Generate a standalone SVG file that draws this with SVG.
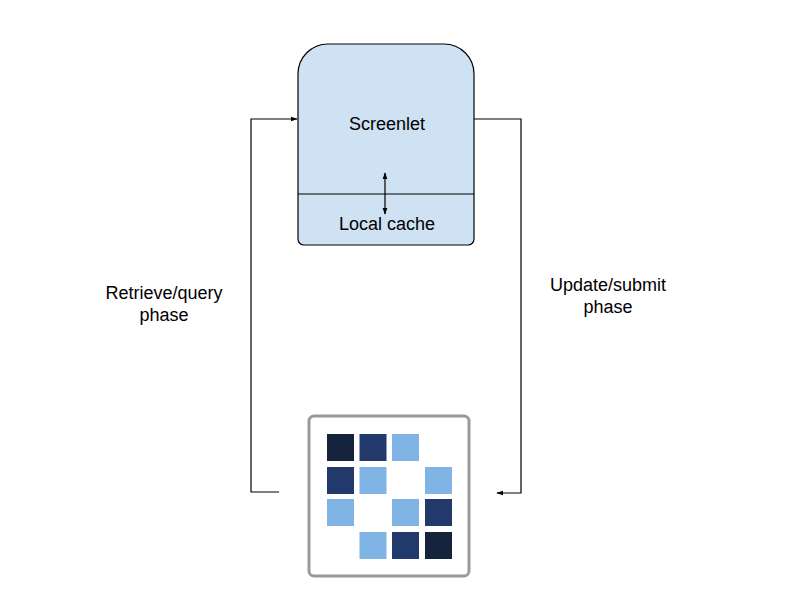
<svg xmlns="http://www.w3.org/2000/svg" width="800" height="600" viewBox="0 0 800 600">
<style>
text{font-family:"Liberation Sans",Arial,sans-serif;font-size:18px;fill:#000}
.c{fill:none;stroke:#000;stroke-width:1.2}
.d{fill:#16233d}.m{fill:#223a6b}.l{fill:#80b4e4}
</style>
<defs>
<marker id="a" viewBox="0 0 10 10" refX="9" refY="5" markerWidth="6" markerHeight="6" orient="auto-start-reverse"><path d="M0,1.5 L10,5 L0,8.5 Z" fill="#000"/></marker>
</defs>
<rect width="800" height="600" fill="#fff"/>
<g id="screenlet">
<path d="M328,44 H444 A30,30 0 0 1 474,74 V239 A6,6 0 0 1 468,245 H304 A6,6 0 0 1 298,239 V74 A30,30 0 0 1 328,44 Z" fill="#cfe2f3" stroke="#000" stroke-width="1.2"/>
<line x1="298" y1="194" x2="474" y2="194" stroke="#000" stroke-width="1.2"/>
<text x="387" y="130" text-anchor="middle">Screenlet</text>
<text x="387" y="230" text-anchor="middle">Local cache</text>
<line x1="385" y1="173" x2="385" y2="214" class="c" marker-start="url(#a)" marker-end="url(#a)"/>
</g>
<g id="database">
<rect x="309" y="416" width="160" height="160" rx="5" fill="#fff" stroke="#999" stroke-width="3"/>
<rect class="d" x="327" y="434" width="27" height="27"/>
<rect class="m" x="359.5" y="434" width="27" height="27"/>
<rect class="l" x="392" y="434" width="27" height="27"/>
<rect class="m" x="327" y="467" width="27" height="27"/>
<rect class="l" x="359.5" y="467" width="27" height="27"/>
<rect class="l" x="425" y="467" width="27" height="27"/>
<rect class="l" x="327" y="499" width="27" height="27"/>
<rect class="l" x="392" y="499" width="27" height="27"/>
<rect class="m" x="425" y="499" width="27" height="27"/>
<rect class="l" x="359.5" y="532" width="27" height="27"/>
<rect class="m" x="392" y="532" width="27" height="27"/>
<rect class="d" x="425" y="532" width="27" height="27"/>
</g>
<g id="connectors">
<polyline class="c" points="279,492 251,492 251,119 297,119" marker-end="url(#a)"/>
<polyline class="c" points="474,119 521,119 521,493 497,493" marker-end="url(#a)"/>
</g>
<g id="labels">
<text x="164" y="299" text-anchor="middle">Retrieve/query</text>
<text x="164" y="321" text-anchor="middle">phase</text>
<text x="608" y="291" text-anchor="middle">Update/submit</text>
<text x="608" y="313" text-anchor="middle">phase</text>
</g>
</svg>
